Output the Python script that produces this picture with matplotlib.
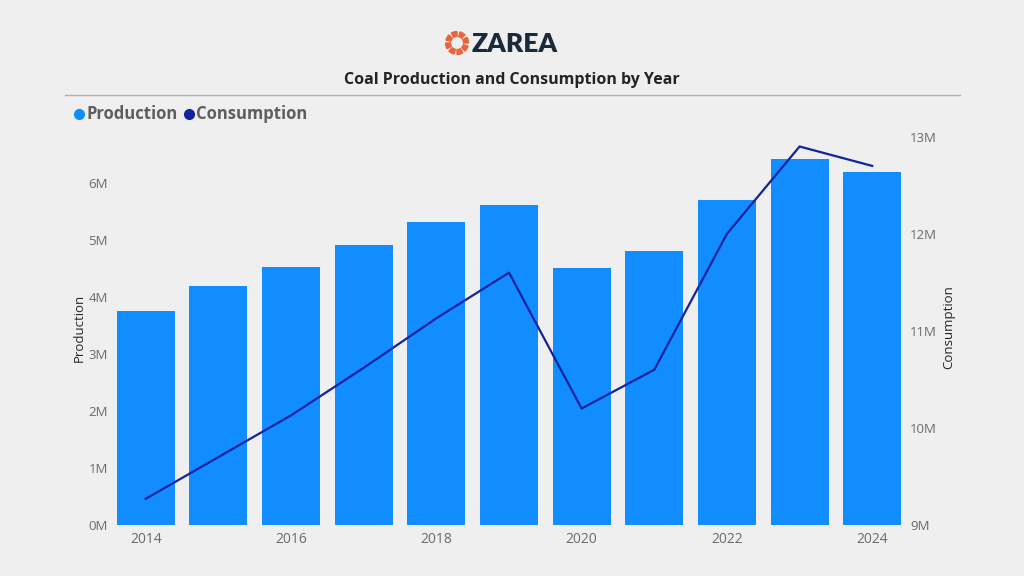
import matplotlib
matplotlib.use("Agg")
import matplotlib.pyplot as plt
import matplotlib.patches as mpatches
from matplotlib.ticker import FuncFormatter

# ── Data ──────────────────────────────────────────────────────────────────────
years = [2014, 2015, 2016, 2017, 2018, 2019, 2020, 2021, 2022, 2023, 2024]
production = [3.75e6, 4.19e6, 4.53e6, 4.91e6, 5.32e6, 5.61e6,
              4.51e6, 4.81e6, 5.70e6, 6.42e6, 6.19e6]
consumption = [9.27e6, 9.70e6, 10.13e6, 10.62e6, 11.13e6, 11.60e6,
               10.20e6, 10.60e6, 12.00e6, 12.90e6, 12.70e6]
xticks = [2014, 2016, 2018, 2020, 2022, 2024]
left_ticks = [0, 1e6, 2e6, 3e6, 4e6, 5e6, 6e6]
right_ticks = [9e6, 10e6, 11e6, 12e6, 13e6]

# ── Style ─────────────────────────────────────────────────────────────────────
BG = "#EFEFEF"
BAR = "#118DFF"
LINE = "#12239E"
TICK = "#6B6B6B"
plt.rcParams["font.family"] = ["Open Sans", "DejaVu Sans"]

fig = plt.figure(figsize=(10.24, 5.76), dpi=100, facecolor=BG)
W, H = 1024, 576


def fx(px):
    return px / W


def fy(py):
    return 1 - py / H


AX_L, AX_R = 108, 910
ax = fig.add_axes([fx(AX_L), fy(525), fx(AX_R - AX_L), fy(130) - fy(525)])
ax.set_facecolor(BG)
ax2 = ax.twinx()

ax.bar(years, production, width=0.8, color=BAR, zorder=2)
ax2.plot(years, consumption, color=LINE, linewidth=1.6, zorder=3)

ax.set_xlim(2013.48, 2024.52)
ax.set_ylim(0, 6.93e6)
ax2.set_ylim(9e6, 13.07e6)

mfmt = FuncFormatter(lambda v, p: f"{v / 1e6:.0f}M")
ax.set_xticks(xticks)
ax.set_yticks(left_ticks)
ax2.set_yticks(right_ticks)
ax.yaxis.set_major_formatter(mfmt)
ax2.yaxis.set_major_formatter(mfmt)

for a in (ax, ax2):
    for s in a.spines.values():
        s.set_visible(False)
    a.tick_params(length=0, colors=TICK, labelsize=9.5)
ax.tick_params(axis="x", pad=5, labelsize=10)
ax.tick_params(axis="y", pad=0)
ax2.tick_params(axis="y", pad=0)

ax.set_ylabel("Production", fontsize=9.5, color="#252423")
ax2.set_ylabel("Consumption", fontsize=9.5, color="#252423")
ax.yaxis.set_label_coords((86 - AX_L) / (AX_R - AX_L), 0.5)
ax2.yaxis.set_label_coords((942 - AX_L) / (AX_R - AX_L), 0.5)

# ── Header ────────────────────────────────────────────────────────────────────
fig.text(0.5, fy(80), "Coal Production and Consumption by Year",
         ha="center", va="center", fontsize=11.5, fontweight="bold",
         color="#252423")
fig.add_artist(plt.Line2D([fx(65), fx(960)], [fy(95), fy(95)],
                          color="#B0B0B0", linewidth=1))

# logo: orange swirl + wordmark
cx, cy = 457, 43
lax = fig.add_axes([fx(cx - 12), fy(cy + 12), fx(24), fy(cy - 12) - fy(cy + 12)])
lax.set_xlim(-1, 1)
lax.set_ylim(-1, 1)
lax.set_aspect("equal")
lax.axis("off")
for k in range(8):
    ang = k * 45
    lax.add_patch(mpatches.Wedge((0, 0), 0.95, ang, ang + 30, width=0.4,
                                 color="#E8643A"))
fig.text(fx(472), fy(44), "ZAREA", ha="left", va="center", fontsize=19,
         fontweight="heavy", color="#1C2B3A", family=["Lato", "DejaVu Sans"])

# legend
ly = 114
for x0, label, col in [(79, "Production", BAR), (189, "Consumption", LINE)]:
    fig.add_artist(plt.Line2D([fx(x0)], [fy(ly)], marker="o", markersize=7,
                              color=col, linestyle="none"))
    fig.text(fx(x0 + 7), fy(ly), label, ha="left", va="center",
             fontsize=12, fontweight="bold", color="#605E5C")

fig.savefig("out.png", dpi=100, facecolor=BG)
